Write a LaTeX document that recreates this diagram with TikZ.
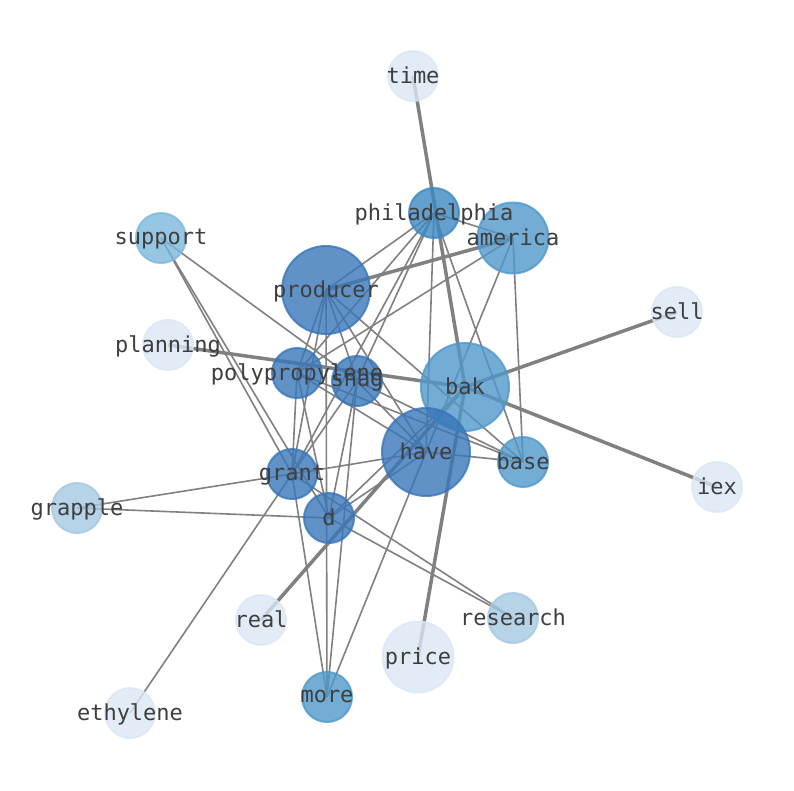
\documentclass[tikz,border=0pt]{standalone}
\usepackage{fontspec}
\setmonofont{DejaVu Sans Mono}
\definecolor{cLight}{RGB}{219,231,244}
\definecolor{cPale}{RGB}{164,200,226}
\definecolor{cSupp}{RGB}{124,184,220}
\definecolor{cMid}{RGB}{80,152,202}
\definecolor{cPhil}{RGB}{61,136,192}
\definecolor{cDark}{RGB}{56,118,185}
\definecolor{cEdge}{RGB}{128,128,128}
\definecolor{cText}{RGB}{62,62,62}
\tikzset{
  vtx/.style={circle, inner sep=0pt, line width=2pt, fill opacity=0.8, draw opacity=0.8, text opacity=1},
  rs/.style={vtx, minimum size=50pt},
  rm/.style={vtx, minimum size=71pt},
  rl/.style={vtx, minimum size=88pt},
  light/.style={fill=cLight, draw=cLight},
  pale/.style={fill=cPale, draw=cPale},
  supp/.style={fill=cSupp, draw=cSupp},
  mid/.style={fill=cMid, draw=cMid},
  phil/.style={fill=cPhil, draw=cPhil},
  dark/.style={fill=cDark, draw=cDark},
  lbl/.style={font=\fontsize{22}{24}\selectfont\ttfamily, text=cText, inner sep=0pt},
  thin/.style={draw=cEdge, line width=1.6pt},
  thick/.style={draw=cEdge, line width=3.5pt},
}
\begin{document}
\begin{tikzpicture}[x=1pt,y=-1pt]
\useasboundingbox (0,0) rectangle (794,790);
% coordinates
\coordinate (time) at (413,76);
\coordinate (philadelphia) at (434,213);
\coordinate (america) at (513,238);
\coordinate (support) at (161,238);
\coordinate (producer) at (326,290);
\coordinate (sell) at (677,312);
\coordinate (planning) at (168,345);
\coordinate (polypropylene) at (297,373);
\coordinate (snag) at (357,381);
\coordinate (bak) at (465,387);
\coordinate (have) at (426,452);
\coordinate (base) at (523,462);
\coordinate (iex) at (717,487);
\coordinate (grant) at (292,474);
\coordinate (grapple) at (77,508);
\coordinate (d) at (329,518);
\coordinate (real) at (261,620);
\coordinate (research) at (513,618);
\coordinate (price) at (418,657);
\coordinate (more) at (327,697);
\coordinate (ethylene) at (130,713);
% thin edges
\foreach \a/\b in {philadelphia/producer, philadelphia/polypropylene, philadelphia/snag,
  philadelphia/grant, philadelphia/have, philadelphia/base, philadelphia/america,
  america/polypropylene, america/have, america/base,
  producer/polypropylene, producer/snag, producer/grant, producer/more, producer/have, producer/base,
  support/snag, support/grant, support/d,
  polypropylene/grant, polypropylene/d, polypropylene/have, polypropylene/base,
  snag/grant, snag/d, snag/more, snag/have, snag/base,
  grant/grapple, grant/ethylene, grant/more, grant/research, grant/have,
  d/grapple, d/research, d/have, d/bak,
  have/more, have/base}
  \draw[thin] (\a) -- (\b);
% thick edges
\foreach \a/\b in {time/bak, bak/price, producer/america, planning/bak, bak/iex, bak/sell, real/bak}
  \draw[thick] (\a) -- (\b);
% nodes
\node[rs, light] (ntime) at (time) {};
\node[rs, phil] (nphiladelphia) at (philadelphia) {};
\node[rm, mid] (namerica) at (america) {};
\node[rs, supp] (nsupport) at (support) {};
\node[rl, dark] (nproducer) at (producer) {};
\node[rs, light] (nsell) at (sell) {};
\node[rs, light] (nplanning) at (planning) {};
\node[rs, dark] (npolypropylene) at (polypropylene) {};
\node[rs, dark] (nsnag) at (snag) {};
\node[rl, mid] (nbak) at (bak) {};
\node[rl, dark] (nhave) at (have) {};
\node[rs, mid] (nbase) at (base) {};
\node[rs, light] (niex) at (iex) {};
\node[rs, dark] (ngrant) at (grant) {};
\node[rs, pale] (ngrapple) at (grapple) {};
\node[rs, dark] (nd) at (d) {};
\node[rs, light] (nreal) at (real) {};
\node[rs, pale] (nresearch) at (research) {};
\node[rm, light] (nprice) at (price) {};
\node[rs, mid] (nmore) at (more) {};
\node[rs, light] (nethylene) at (ethylene) {};
% labels
\foreach \n in {time, philadelphia, america, support, producer, sell, planning, polypropylene,
  snag, bak, have, base, iex, grant, grapple, d, real, research, price, more, ethylene}
  \node[lbl] (t\n) at ([yshift=-1.5pt]\n) {\n\vphantom{p}};
\end{tikzpicture}
\end{document}
